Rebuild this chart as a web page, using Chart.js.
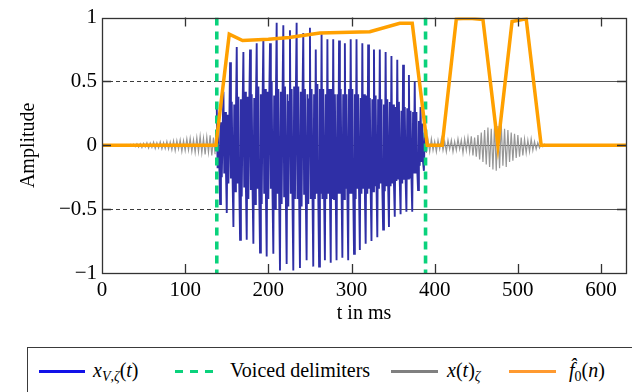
<!DOCTYPE html>
<html><head><meta charset="utf-8">
<script src="https://cdn.jsdelivr.net/npm/chart.js@4.4.1/dist/chart.umd.min.js"></script>
<style>
html,body{margin:0;padding:0;background:#fff;}
#wrap{position:relative;width:632px;height:392px;overflow:hidden;font-family:"Liberation Serif",serif;}
#c{position:absolute;left:0;top:0;}
#legend{position:absolute;left:27px;top:347px;width:640px;height:70px;border:1px solid #3a3a3a;box-sizing:border-box;background:#fff;}
.sw{position:absolute;height:0;top:22px;}
.lt{position:absolute;top:11px;font-size:20px;line-height:22px;white-space:nowrap;color:#000;}
.lt i{font-style:italic;}
.lt sub{font-size:14px;vertical-align:-4px;line-height:0;}
</style>
</head><body>
<div id="wrap">
<canvas id="c" width="632" height="392"></canvas>
<div id="legend">
  <div class="sw" style="left:11px;width:46px;border-top:3px solid #1212e8;"></div>
  <div class="lt" style="left:65px;"><i>x</i><sub><i>V</i>,<i>ζ</i></sub>(<i>t</i>)</div>
  <div class="sw" style="left:147px;width:8px;border-top:3px solid #0ad27c;"></div>
  <div class="sw" style="left:162px;width:8px;border-top:3px solid #0ad27c;"></div>
  <div class="sw" style="left:177px;width:8px;border-top:3px solid #0ad27c;"></div>
  <div class="lt" style="left:202px;">Voiced delimiters</div>
  <div class="sw" style="left:363px;width:47px;border-top:3px solid #808080;"></div>
  <div class="lt" style="left:419px;"><i>x</i>(<i>t</i>)<sub><i>ζ</i></sub></div>
  <div class="sw" style="left:481px;width:47px;border-top:3px solid #ff9a30;"></div>
  <div class="lt" style="left:541px;"><i>f̂</i><sub>0</sub>(<i>n</i>)</div>
</div>
</div>
<script>
// ---- data ----
const sampleStepBlue = 1;      // ms between samples of the voiced signal
const blueStart = 138;         // ms
const blueV = [
 0.29,-0.18,0.2,-0.14,-0.46,0.18,-0.25,0.1,
 0.42,-0.22,0.26,-0.18,-0.53,0.24,-0.3,0.15,
 0.65,-0.26,0.34,-0.26,-0.64,0.32,-0.36,0.22,
 0.77,-0.3,0.38,-0.3,-0.74,0.36,-0.4,0.26,
 0.73,-0.33,0.42,-0.32,-0.74,0.38,-0.42,0.3,
 0.75,-0.35,0.4,-0.34,-0.77,0.37,-0.46,0.3,
 0.80,-0.34,0.46,-0.36,-0.84,0.4,-0.46,0.32,
 0.84,-0.38,0.44,-0.34,-0.87,0.42,-0.42,0.34,
 0.80,-0.34,0.5,-0.38,-0.85,0.39,-0.5,0.32,
 0.96,-0.38,0.44,-0.4,-0.98,0.42,-0.46,0.36,
 0.94,-0.4,0.46,-0.38,-0.93,0.4,-0.48,0.34,
 0.90,-0.38,0.44,-0.42,-0.98,0.46,-0.42,0.36,
 0.96,-0.42,0.46,-0.38,-0.96,0.42,-0.48,0.34,
 0.88,-0.38,0.44,-0.38,-0.90,0.4,-0.46,0.36,
 0.92,-0.42,0.44,-0.34,-0.95,0.4,-0.42,
 0.75,-0.38,0.48,-0.38,-0.95,0.44,-0.38,
 0.87,-0.42,0.44,-0.38,-0.90,0.4,-0.42,
 0.83,-0.38,0.44,-0.34,-0.92,0.44,-0.42,
 0.83,-0.42,0.4,-0.38,-0.90,0.4,-0.38,
 0.82,-0.38,0.44,-0.34,-0.88,0.4,-0.42,
 0.80,-0.34,0.4,-0.38,-0.90,0.44,-0.38,
 0.83,-0.38,0.44,-0.34,-0.85,0.4,-0.42,
 0.83,-0.34,0.4,-0.34,-0.82,0.37,-0.38,
 0.80,-0.34,0.4,-0.34,-0.77,0.39,-0.38,
 0.79,-0.34,0.37,-0.34,-0.75,0.36,-0.36,
 0.75,-0.32,0.39,-0.3,-0.72,0.36,-0.34,
 0.75,-0.3,0.36,-0.32,-0.66,0.32,-0.36,
 0.73,-0.32,0.36,-0.3,-0.64,0.34,-0.32,
 0.70,-0.3,0.32,-0.3,-0.56,0.3,-0.28,
 0.67,-0.26,0.34,-0.28,-0.54,0.27,-0.3,
 0.63,-0.27,0.3,-0.26,-0.52,0.29,-0.26,
 0.55,-0.26,0.27,-0.24,-0.52,0.26,-0.22,
 0.50,-0.22,0.26,-0.19,-0.35,0.19,-0.16,
 0.30,-0.13,0.17,-0.13,-0.2,0.1,-0.05
];
const sampleStepGray = 2;      // ms between samples of the unvoiced signal
const grayPreStart = 0;
const grayPreV = [
 0,0,0,0,0,0.002,-0.002,0.003,-0.002,0.003,-0.004,0.004,-0.003,0.005,-0.005,0.006,-0.005,0.008,-0.007,0.008,
 -0.01,0.012,-0.015,0.013,-0.018,0.015,-0.013,0.02,-0.022,0.018,-0.016,0.024,-0.025,0.02,-0.02,0.026,-0.028,0.022,-0.026,0.03,
 -0.03,0.026,-0.036,0.034,-0.042,0.036,-0.03,0.042,-0.048,0.036,-0.042,0.05,-0.038,0.055,-0.048,0.042,-0.055,0.06,-0.05,0.07,
 -0.06,0.055,-0.072,0.066,-0.055,0.078,-0.08,0.06,-0.07
];
const grayPostStart = 390;
const grayPostV = [
 -0.06,0.04,-0.05,0.05,-0.04,0.03,-0.05,0.04,-0.03,0.05,-0.04,0.03,-0.05,0.04,-0.03,
 0.04,-0.05,0.03,-0.04,0.05,-0.03,0.04,-0.06,0.05,-0.04,0.06,-0.05,0.07,-0.08,0.06,
 -0.09,0.08,-0.11,0.1,-0.13,0.12,-0.15,0.14,-0.17,0.13,-0.19,0.16,-0.2,0.15,-0.18,
 0.17,-0.16,0.13,-0.17,0.12,-0.13,0.1,-0.12,0.09,-0.1,0.08,-0.09,0.06,-0.08,0.05,
 -0.06,0.04,-0.05,0.05,-0.04,0.03,-0.03,0.02,-0.02,0.015,-0.01,0.008,-0.005,0.003,0,
 0
];
const grayEnd = [630, 0];
const f0T = [0, 137, 153, 169, 200, 225, 262, 322, 358, 373, 391, 409, 426, 442, 458, 476, 493, 510, 528, 630];
const f0V = [0, 0, 0.87, 0.82, 0.83, 0.845, 0.88, 0.89, 0.955, 0.955, 0, 0, 0.99, 0.995, 0.985, 0, 0.97, 0.99, 0, 0];
const delimiters = [138, 389];
const xTicks = [0, 100, 200, 300, 400, 500, 600];
const yTicks = [-1, -0.5, 0, 0.5, 1];

// ---- build datasets ----
const blueData = blueV.map((v, i) => ({x: blueStart + i * sampleStepBlue, y: v}));
const grayData = grayPreV.map((v, i) => ({x: grayPreStart + i * sampleStepGray, y: v}))
  .concat([{x: 137, y: null}])
  .concat(grayPostV.map((v, i) => ({x: grayPostStart + i * sampleStepGray, y: v})))
  .concat([{x: grayEnd[0], y: grayEnd[1]}]);
const f0Data = f0T.map((t, i) => ({x: t, y: f0V[i]}));
const delimSets = delimiters.map(t => ({
  data: [{x: t, y: 1}, {x: t, y: -1}],
  borderColor: '#0ad27c', borderWidth: 3.6, borderDash: [8, 6], borderCapStyle: 'butt', pointRadius: 0, order: 1
}));

const fmt = v => (v < 0 ? '\u2212' : '') + Math.abs(v);

const framePlugin = {
  id: 'frame',
  beforeDatasetsDraw(c) {
    const {ctx, chartArea: a, scales: {x, y}} = c;
    const xs = x.getPixelForValue(delimiters[0]);
    ctx.save();
    ctx.lineWidth = 1.2;
    yTicks.filter(v => v > -1 && v < 1).forEach(v => {
      const py = Math.round(y.getPixelForValue(v)) + 0.5;
      ctx.strokeStyle = '#3c3c3c'; ctx.setLineDash([4, 3]);
      ctx.beginPath(); ctx.moveTo(a.left, py); ctx.lineTo(xs, py); ctx.stroke();
      ctx.strokeStyle = '#555'; ctx.setLineDash([]);
      ctx.beginPath(); ctx.moveTo(xs, py); ctx.lineTo(a.right, py); ctx.stroke();
    });
    ctx.restore();
  },
  afterDatasetsDraw(c) {
    const {ctx, chartArea: a, scales: {x, y}} = c;
    ctx.save();
    ctx.strokeStyle = '#333'; ctx.lineWidth = 1.3;
    ctx.strokeRect(Math.round(a.left) + 0.5, Math.round(a.top) + 0.5, Math.round(a.right - a.left), Math.round(a.bottom - a.top));
    const tl = 9;
    xTicks.filter(v => v > 0).forEach(v => {
      const px = Math.round(x.getPixelForValue(v)) + 0.5;
      ctx.beginPath(); ctx.moveTo(px, a.top); ctx.lineTo(px, a.top + tl);
      ctx.moveTo(px, a.bottom); ctx.lineTo(px, a.bottom - tl); ctx.stroke();
    });
    yTicks.filter(v => v > -1 && v < 1).forEach(v => {
      const py = Math.round(y.getPixelForValue(v)) + 0.5;
      ctx.beginPath(); ctx.moveTo(a.left, py); ctx.lineTo(a.left + tl, py);
      ctx.moveTo(a.right, py); ctx.lineTo(a.right - tl, py); ctx.stroke();
    });
    ctx.restore();
  }
};

const font = {family: 'Liberation Serif', size: 21};
new Chart(document.getElementById('c'), {
  type: 'line',
  data: {
    datasets: [
      {data: f0Data, borderColor: '#ffa000', borderWidth: 3.5, pointRadius: 0, order: 0},
      ...delimSets,
      {data: blueData, borderColor: '#2f2fa6', borderWidth: 1.9, pointRadius: 0, order: 2},
      {data: grayData, borderColor: '#979797', borderWidth: 1.2, pointRadius: 0, spanGaps: false, order: 3}
    ]
  },
  options: {
    responsive: false, animation: false, events: [],
    layout: {padding: {left: 17, right: 6, top: 15, bottom: 66}},
    plugins: {legend: {display: false}, tooltip: {enabled: false}},
    elements: {line: {tension: 0}},
    scales: {
      x: {
        type: 'linear', min: 0, max: 630,
        afterBuildTicks: s => { s.ticks = xTicks.map(v => ({value: v})); },
        ticks: {font, color: '#000', padding: 5, maxRotation: 0, autoSkip: false},
        grid: {display: false, drawTicks: false}, border: {display: false},
        title: {display: true, text: 't in ms', font: {family: 'Liberation Serif', size: 20}, color: '#000', padding: 0},
        afterFit: s => { s.height = 53; }
      },
      y: {
        type: 'linear', min: -1, max: 1,
        afterBuildTicks: s => { s.ticks = yTicks.map(v => ({value: v})); },
        ticks: {font, color: '#000', padding: 5, callback: v => fmt(v)},
        grid: {display: false, drawTicks: false}, border: {display: false},
        title: {display: true, text: 'Amplitude', font: {family: 'Liberation Serif', size: 20}, color: '#000', padding: 0},
        afterFit: s => { s.width = 85; }
      }
    }
  },
  plugins: [framePlugin]
});
</script>
</body></html>
